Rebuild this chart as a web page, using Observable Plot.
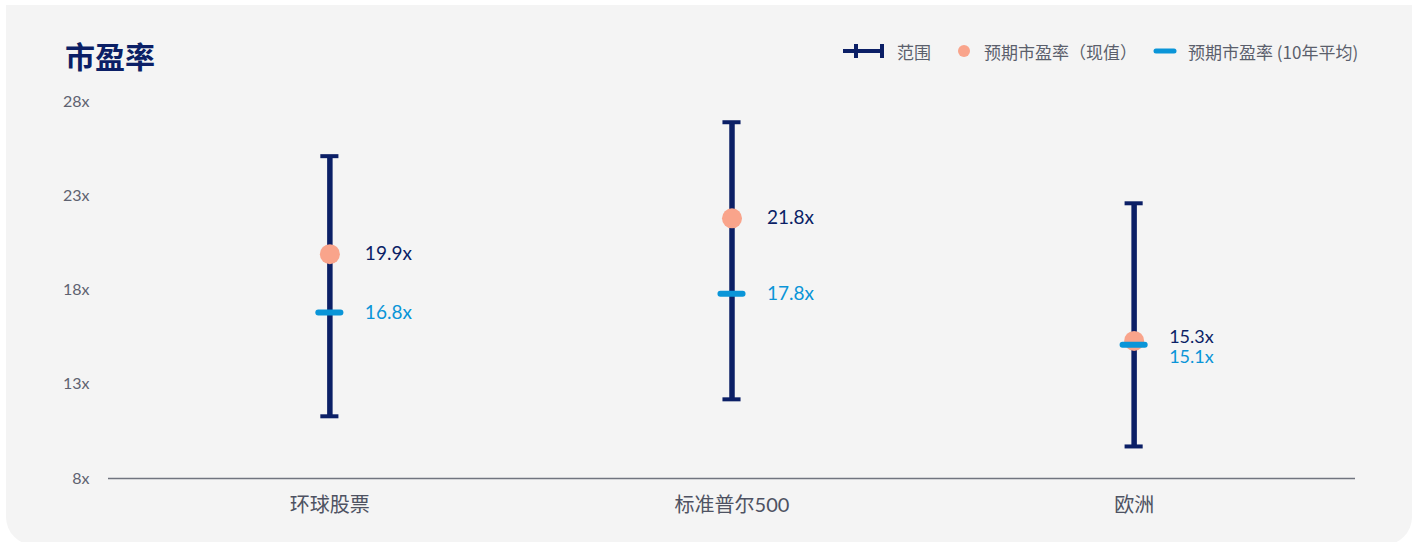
<!DOCTYPE html>
<html>
<head>
<meta charset="utf-8">
<script src="https://cdn.jsdelivr.net/npm/d3@7"></script>
<script src="https://cdn.jsdelivr.net/npm/@observablehq/plot@0.6"></script>
<style>
  html, body { margin: 0; padding: 0; background: #ffffff; }
  #wrap { position: relative; width: 1417px; height: 542px; overflow: hidden; background: #ffffff;
          font-family: "Lato", "Noto Sans CJK SC", sans-serif; }
  .panel { position: absolute; left: 6px; top: 5px; width: 1406px; height: 540px; background: #f4f4f4;
           border-bottom-left-radius: 28px; border-bottom-right-radius: 28px; }
  .title { position: absolute; left: 65px; top: 39px; font-size: 30px; line-height: 32px; font-weight: 700;
           color: #0b1f66; font-family: "Noto Sans CJK SC", sans-serif; }
  .legend { position: absolute; top: 41px; height: 20px; display: flex; align-items: center;
            font-size: 17px; color: #5b5f6c; font-family: "Noto Sans CJK SC", "Lato", sans-serif; white-space: nowrap; }
  .legend svg { display: block; }
  #chart { position: absolute; left: 0; top: 0; }
</style>
</head>
<body>
<div id="wrap">
  <div class="panel"></div>
  <div class="title">市盈率</div>
  <div class="legend" style="left:843px">
    <svg width="42" height="20"><line x1="0" y1="10" x2="41" y2="10" stroke="#0b1f66" stroke-width="4"/><line x1="13" y1="3" x2="13" y2="17" stroke="#0b1f66" stroke-width="4"/><line x1="39" y1="3" x2="39" y2="17" stroke="#0b1f66" stroke-width="4"/></svg>
  </div>
  <div class="legend" style="left:897px">范围</div>
  <div class="legend" style="left:957px">
    <svg width="14" height="20"><circle cx="7" cy="10" r="6" fill="#f9a48b"/></svg>
  </div>
  <div class="legend" style="left:984px">预期市盈率（现值）</div>
  <div class="legend" style="left:1152px">
    <svg width="26" height="20"><line x1="4" y1="10" x2="22" y2="10" stroke="#0a95d8" stroke-width="5" stroke-linecap="round"/></svg>
  </div>
  <div class="legend" style="left:1188px">预期市盈率 (10年平均)</div>
  <div id="chart"></div>
</div>
<script>
const categories = ["环球股票", "标准普尔500", "欧洲"];
const rangeLow = [11.3, 12.2, 9.7];
const rangeHigh = [25.1, 26.9, 22.6];
const currentPE = [19.9, 21.8, 15.3];
const avgPE10y = [16.8, 17.8, 15.1];
const yTicks = [8, 13, 18, 23, 28];

const navy = "#0b1f66";
const salmon = "#f9a48b";
const blue = "#0a95d8";
const grayText = "#5e6270";

const data = categories.map((c, i) => ({
  cat: c, lo: rangeLow[i], hi: rangeHigh[i], cur: currentPE[i], avg: avgPE10y[i]
}));
const close = d => Math.abs(d.cur - d.avg) < 1;

const chart = Plot.plot({
  width: 1417,
  height: 542,
  marginTop: 101,
  marginBottom: 64,
  marginLeft: 108,
  marginRight: 62,
  style: { background: "transparent", fontFamily: "Lato, 'Noto Sans CJK SC', sans-serif", overflow: "visible" },
  x: { type: "band", domain: categories, paddingInner: 0.955, paddingOuter: 0.528, round: false, align: 0.5 },
  y: { domain: [8, 28] },
  marks: [
    Plot.axisY({ ticks: yTicks, tickFormat: d => d + "x", tickSize: 0, tickPadding: 19, fontSize: 16, fill: grayText, label: null }),
    Plot.axisX({ tickSize: 0, tickPadding: 19, fontSize: 20, fill: "#4e5262", label: null }),
    Plot.ruleY([8], { stroke: "#70747f", strokeWidth: 1.5 }),
    Plot.ruleX(data, { x: "cat", y1: "lo", y2: "hi", stroke: navy, strokeWidth: 5.5 }),
    Plot.tickY(data, { x: "cat", y: "hi", stroke: navy, strokeWidth: 4 }),
    Plot.tickY(data, { x: "cat", y: "lo", stroke: navy, strokeWidth: 4 }),
    Plot.dot(data, { x: "cat", y: "cur", r: 10, fill: salmon, stroke: "none" }),
    Plot.tickY(data, { x: "cat", y: "avg", stroke: blue, strokeWidth: 6, strokeLinecap: "round", insetLeft: -2, insetRight: -2 }),
    Plot.text(data, { filter: d => !close(d), x: "cat", y: "cur", text: d => d.cur.toFixed(1) + "x", dx: 35, textAnchor: "start", fill: navy, fontSize: 19 }),
    Plot.text(data, { filter: d => !close(d), x: "cat", y: "avg", text: d => d.avg.toFixed(1) + "x", dx: 35, textAnchor: "start", fill: blue, fontSize: 19 }),
    Plot.text(data, { filter: close, x: "cat", y: "cur", text: d => d.cur.toFixed(1) + "x", dx: 35, dy: -4, textAnchor: "start", fill: navy, fontSize: 18 }),
    Plot.text(data, { filter: close, x: "cat", y: "avg", text: d => d.avg.toFixed(1) + "x", dx: 35, dy: 13, textAnchor: "start", fill: blue, fontSize: 18 })
  ]
});
document.getElementById("chart").appendChild(chart);
</script>
</body>
</html>
